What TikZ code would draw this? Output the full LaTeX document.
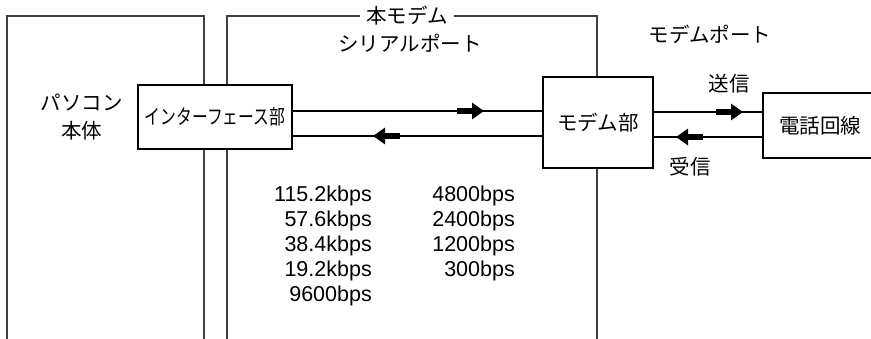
\documentclass[tikz,border=0pt]{standalone}
\usepackage{fontspec}
\setmainfont{Liberation Sans}
\newfontfamily\jp{Noto Sans CJK JP}
\usetikzlibrary{arrows.meta, positioning}

\tikzset{
  frame/.style={draw=black!75, line width=1.2pt},
  unit/.style={draw, line width=2.8pt, fill=white, inner sep=0pt,
    font=\jp\fontsize{20.5}{24}\selectfont},
  link/.style={line width=1.1pt},
  dirarrow/.style={line width=5.5pt, -{Triangle[length=12pt, width=16pt]}},
  jplabel/.style={font=\jp\fontsize{20.5}{28}\selectfont, align=center, inner sep=1pt},
  rate/.style={font=\fontsize{21.5}{24}\selectfont, anchor=east, inner sep=0pt},
}

\begin{document}
\begin{tikzpicture}[x=1pt, y=-1pt]
\useasboundingbox (0,0) rectangle (871,339);
% frames of the PC and of the serial port
\draw[frame] (7,339) |- (204,16) -- (204,339);
\draw[frame] (227,339) |- (597,16) -- (597,339);
\node (port) [jplabel, fill=white, inner xsep=6pt] at (407,16) {本モデム};
\node (portb) [jplabel] at (410,43) {シリアルポート};
\node (pc) [jplabel] at (82,117) {パソコン\\本体};
\node (mport) [jplabel] at (710,34) {モデムポート};
%
\node (iface) [unit, minimum width=154, minimum height=64] at (215,117) {\scalebox{0.77}[1]{インターフェース部}};
\node (modem) [unit, minimum width=110, minimum height=91] at (598,122.5) {モデム部};
\node (line)  [unit, minimum width=120, minimum height=65, text width=106, align=left] at (823,125.5) {\hspace{9pt}電話回線};
%
\coordinate (up) at (0,111);
\coordinate (dn) at (0,136);
\draw[link] (iface.east |- up) -- (modem.west |- up);
\draw[link] (iface.east |- dn) -- (modem.west |- dn);
\draw[link] (modem.east |- 0,112) -- (line.west |- 0,112);
\draw[link] (modem.east |- 0,137) -- (line.west |- 0,137);
%
\draw[dirarrow] (457,111) -- (484,111);
\draw[dirarrow] (400,136) -- (373,136);
\draw[dirarrow] (716,112) -- (743,112);
\draw[dirarrow] (703,137) -- (676,137);
\node (send) [jplabel] at (729,84) {送信};
\node (recv) [jplabel] at (690,167) {受信};
%
\foreach \r [count=\i from 0] in {115.2kbps, 57.6kbps, 38.4kbps, 19.2kbps, 9600bps}
  \node (ra\i) [rate] at (372,196+25*\i) {\r};
\foreach \r [count=\i from 0] in {4800bps, 2400bps, 1200bps, 300bps}
  \node (rb\i) [rate] at (515,196+25*\i) {\r};
\end{tikzpicture}
\end{document}
